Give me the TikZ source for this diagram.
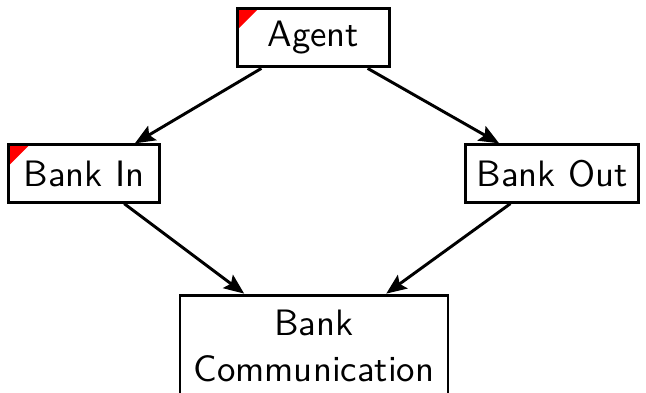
\documentclass[tikz,border=0pt]{standalone}
\usepackage{tikz}
\usetikzlibrary{arrows.meta,positioning}

\begin{document}
\begin{tikzpicture}[x=0.272pt, y=-0.272pt,
		block/.style={rectangle, draw=black, thick, fill=white, font=\sffamily, align=center, inner sep=3pt, minimum width=41.2pt, minimum height=15.6pt},
		marked/.style={path picture={\fill[red] (path picture bounding box.north west) -- ++(5.8pt,0) -- ++(-5.8pt,-5.8pt) -- cycle;}},
		arrow/.style={thick, -{Stealth[length=5.5pt,width=4.5pt,inset=1pt]}}
	]
	\useasboundingbox (0,0) rectangle (646,392);
	\node (agent)   [block, marked, minimum height=16pt] at (313.5,37.5) {Agent};
	\node (bankin)  [block, marked] at (84,173.5) {Bank In};
	\node (bankout) [block, minimum width=45.7pt] at (552,173.5) {Bank Out};
	\node (bankcom) [block, minimum width=72.9pt, minimum height=27.7pt] at (314,346) {Bank\\[0.4pt]Communication};

	\draw [arrow] (agent) -- (bankin);
	\draw [arrow] (agent) -- (bankout);
	\draw [arrow] (bankin) -- (bankcom);
	\draw [arrow] (bankout) -- (bankcom);

\end{tikzpicture}
\end{document}
